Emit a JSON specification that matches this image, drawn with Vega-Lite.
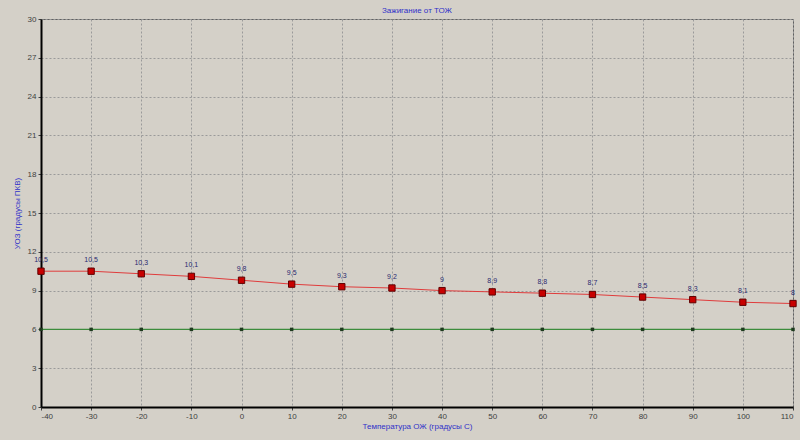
{
  "$schema": "https://vega.github.io/schema/vega-lite/v6.json",
  "width": 752,
  "height": 388,
  "autosize": {"type": "none"},
  "padding": {"left": 41, "top": 19, "right": 7, "bottom": 33},
  "background": "#d4d0c8",
  "title": {
    "text": "Зажигание от ТОЖ",
    "fontSize": 8,
    "fontWeight": "normal",
    "font": "Liberation Sans",
    "color": "#3030c8",
    "anchor": "middle",
    "offset": 0
  },
  "config": {
    "view": {"fill": "#d4d0c8", "stroke": "#606060", "strokeWidth": 1},
    "locale": {
      "number": {"decimal": ",", "thousands": " ", "grouping": [3], "currency": ["", ""], "minus": "-"}
    },
    "axis": {
      "labelFont": "Liberation Sans",
      "labelFontSize": 8,
      "labelColor": "#404040",
      "titleFont": "Liberation Sans",
      "titleFontSize": 8,
      "titleFontWeight": "normal",
      "titleColor": "#3030c8",
      "domainColor": "#000000",
      "domainWidth": 2,
      "tickColor": "#404040",
      "tickSize": 3,
      "gridColor": "#9a9a9a",
      "gridDash": [2, 2],
      "gridWidth": 1
    }
  },
  "data": {
    "values": [
      {"t": -40, "uoz": 10.5, "min": 6},
      {"t": -30, "uoz": 10.5, "min": 6},
      {"t": -20, "uoz": 10.3, "min": 6},
      {"t": -10, "uoz": 10.1, "min": 6},
      {"t": 0, "uoz": 9.8, "min": 6},
      {"t": 10, "uoz": 9.5, "min": 6},
      {"t": 20, "uoz": 9.3, "min": 6},
      {"t": 30, "uoz": 9.2, "min": 6},
      {"t": 40, "uoz": 9, "min": 6},
      {"t": 50, "uoz": 8.9, "min": 6},
      {"t": 60, "uoz": 8.8, "min": 6},
      {"t": 70, "uoz": 8.7, "min": 6},
      {"t": 80, "uoz": 8.5, "min": 6},
      {"t": 90, "uoz": 8.3, "min": 6},
      {"t": 100, "uoz": 8.1, "min": 6},
      {"t": 110, "uoz": 8, "min": 6}
    ]
  },
  "transform": [{"fold": ["uoz", "min"], "as": ["series", "value"]}],
  "encoding": {
    "x": {
      "field": "t",
      "type": "quantitative",
      "scale": {"domain": [-40, 110], "nice": false, "zero": false},
      "axis": {
        "values": [-40, -30, -20, -10, 0, 10, 20, 30, 40, 50, 60, 70, 80, 90, 100, 110],
        "title": "Температура ОЖ (градусы С)",
        "titlePadding": 2,
        "labelPadding": 2
      }
    },
    "y": {
      "field": "value",
      "type": "quantitative",
      "scale": {"domain": [0, 30], "nice": false},
      "axis": {
        "values": [0, 3, 6, 9, 12, 15, 18, 21, 24, 27, 30],
        "title": "УОЗ (градусы ПКВ)",
        "titlePadding": 6,
        "labelPadding": 2,
        "labelOverlap": false
      }
    }
  },
  "layer": [
    {
      "transform": [{"filter": "datum.series === 'min'"}],
      "mark": {"type": "line", "color": "#3c8c3c", "strokeWidth": 1.2}
    },
    {
      "transform": [{"filter": "datum.series === 'min'"}],
      "mark": {"type": "square", "filled": true, "color": "#1e3a1e", "size": 12, "opacity": 1}
    },
    {
      "transform": [{"filter": "datum.series === 'uoz'"}],
      "mark": {"type": "line", "color": "#e03c3c", "strokeWidth": 1}
    },
    {
      "transform": [{"filter": "datum.series === 'uoz'"}],
      "mark": {"type": "square", "filled": true, "fill": "#c80000", "stroke": "#600000", "strokeWidth": 1, "size": 40, "opacity": 1}
    },
    {
      "transform": [{"filter": "datum.series === 'uoz'"}],
      "mark": {"type": "text", "dy": -11, "fontSize": 7, "font": "Liberation Sans", "color": "#2a2a70"},
      "encoding": {
        "text": {"field": "value", "type": "quantitative", "format": ".2~f"}
      }
    }
  ]
}
